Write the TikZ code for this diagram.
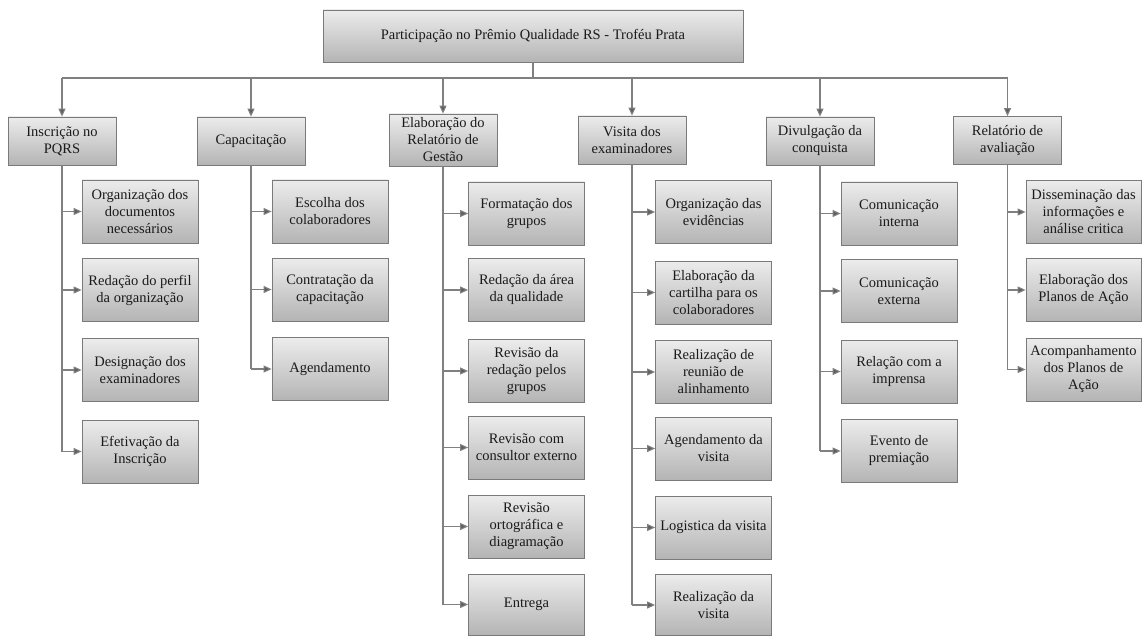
\documentclass[tikz,border=0pt]{standalone}
\usepackage{fontspec}
\setmainfont{Liberation Serif}
\usetikzlibrary{arrows.meta}
\definecolor{linegray}{HTML}{808080}
\definecolor{tipgray}{HTML}{5E5E5E}
\definecolor{bordergray}{HTML}{7A7A7A}
\definecolor{boxtop}{HTML}{ECECEC}
\definecolor{boxbot}{HTML}{B4B4B4}
\definecolor{textc}{HTML}{1A1A1A}
\tikzset{
  box/.style={draw=bordergray, line width=0.8pt, top color=boxtop, bottom color=boxbot,
    align=center, inner sep=2pt, text=textc, font=\fontsize{14.5}{17}\selectfont},
  topbox/.style={box, minimum width=108, minimum height=48},
  kid/.style={box, minimum width=116, minimum height=63},
  conn/.style={draw=linegray, line width=1.1pt},
  arr/.style={conn, -{Triangle[length=8pt,width=7pt,fill=tipgray]}},
}
\begin{document}
\begin{tikzpicture}[x=1pt,y=-1pt]
\useasboundingbox[fill=white] (0,0) rectangle (1142,636);

% root
\node[box, minimum width=420, minimum height=52] (root) at (533,36)
  {Participação no Prêmio Qualidade RS - Troféu Prata};

% top level
\node[topbox] (c1) at (62,141) {Inscrição no\\PQRS};
\node[topbox] (c2) at (251,141) {Capacitação};
\node[topbox, minimum height=52] (c3) at (443,140) {Elaboração do\\Relatório de\\Gestão};
\node[topbox] (c4) at (632,140) {Visita dos\\examinadores};
\node[topbox] (c5) at (820,141) {Divulgação da\\conquista};
\node[topbox] (c6) at (1007.5,140.5) {Relatório de\\avaliação};

% column 1
\node[kid] (k11) at (140,211.5) {Organização dos\\documentos\\necessários};
\node[kid] (k12) at (140,290) {Redação do perfil\\da organização};
\node[kid] (k13) at (140,370) {Designação dos\\examinadores};
\node[kid] (k14) at (140,451.5) {Efetivação da\\Inscrição};

% column 2
\node[kid] (k21) at (330,211.5) {Escolha dos\\colaboradores};
\node[kid] (k22) at (330,289.5) {Contratação da\\capacitação};
\node[kid] (k23) at (330,369) {Agendamento};

% column 3
\node[kid] (k31) at (526.5,213.5) {Formatação dos\\grupos};
\node[kid] (k32) at (526.5,290) {Redação da área\\da qualidade};
\node[kid] (k33) at (526.5,371) {Revisão da\\redação pelos\\grupos};
\node[kid] (k34) at (526.5,447.5) {Revisão com\\consultor externo};
\node[kid] (k35) at (526.5,526.5) {Revisão\\ortográfica e\\diagramação};
\node[kid, minimum height=61] (k36) at (526.5,604.5) {Entrega};

% column 4
\node[kid] (k41) at (713.5,212) {Organização das\\evidências};
\node[kid] (k42) at (713.5,292.5) {Elaboração da\\cartilha para os\\colaboradores};
\node[kid] (k43) at (713.5,372) {Realização de\\reunião de\\alinhamento};
\node[kid] (k44) at (713.5,448.5) {Agendamento da\\visita};
\node[kid] (k45) at (713.5,527.5) {Logistica da visita};
\node[kid, minimum height=61] (k46) at (713.5,605) {Realização da\\visita};

% column 5
\node[kid] (k51) at (899,213.5) {Comunicação\\interna};
\node[kid] (k52) at (899,291) {Comunicação\\externa};
\node[kid] (k53) at (899,371.5) {Relação com a\\imprensa};
\node[kid] (k54) at (899,451) {Evento de\\premiação};

% column 6
\node[kid, minimum width=115] (k61) at (1083.5,212) {Disseminação das\\informações e\\análise critica};
\node[kid, minimum width=115] (k62) at (1083.5,290) {Elaboração dos\\Planos de Ação};
\node[kid, minimum width=115] (k63) at (1083.5,369.5) {Acompanhamento\\dos Planos de\\Ação};

% root to top level
\coordinate (bar) at (0,78);
\draw[conn] (root.south) -- (root.south |- bar);
\draw[conn] (c1.north |- bar) -- (c6.north |- bar);
\foreach \c in {c1,c2,c3,c4,c5,c6}
  \draw[arr] (\c.north |- bar) -- (\c.north);

% columns
\draw[conn] (c1.south) -- (c1.south |- k14.west);
\foreach \k in {k11,k12,k13,k14}
  \draw[arr] (c1.south |- \k.west) -- (\k.west);

\draw[conn] (c2.south) -- (c2.south |- k23.west);
\foreach \k in {k21,k22,k23}
  \draw[arr] (c2.south |- \k.west) -- (\k.west);

\draw[conn] (c3.south) -- (c3.south |- k36.west);
\foreach \k in {k31,k32,k33,k34,k35,k36}
  \draw[arr] (c3.south |- \k.west) -- (\k.west);

\draw[conn] (c4.south) -- (c4.south |- k46.west);
\foreach \k in {k41,k42,k43,k44,k45,k46}
  \draw[arr] (c4.south |- \k.west) -- (\k.west);

\draw[conn] (c5.south) -- (c5.south |- k54.west);
\foreach \k in {k51,k52,k53,k54}
  \draw[arr] (c5.south |- \k.west) -- (\k.west);

\draw[conn] (c6.south) -- (c6.south |- k63.west);
\foreach \k in {k61,k62,k63}
  \draw[arr] (c6.south |- \k.west) -- (\k.west);
\end{tikzpicture}
\end{document}
